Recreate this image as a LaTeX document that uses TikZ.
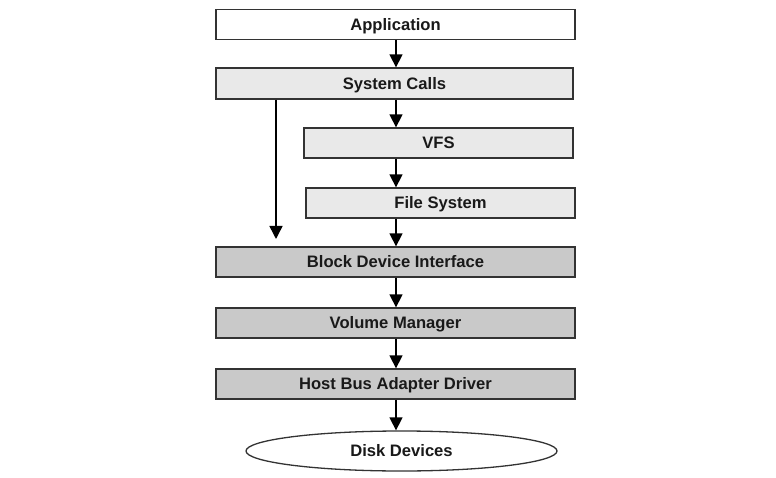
\documentclass[tikz,border=0pt]{standalone}
\usepackage{fontspec}
\setmainfont{Liberation Sans}
\usetikzlibrary{arrows.meta,shapes.geometric}
\definecolor{lightbox}{HTML}{E9E9E9}
\definecolor{darkbox}{HTML}{C9C9C9}
\definecolor{edge}{HTML}{333333}
\begin{document}
\begin{tikzpicture}[x=1pt,y=-1pt,
  layer/.style={draw=edge,line width=1.3pt,inner sep=0pt,minimum height=30pt,
    text height=11.9pt,text depth=0pt,
    font=\fontsize{16.6}{18}\selectfont\bfseries,text=black!90},
  toplayer/.style={layer,fill=white},
  midlayer/.style={layer,fill=lightbox},
  lowlayer/.style={layer,fill=darkbox},
  disk/.style={ellipse,draw=edge,line width=1.3pt,fill=white,inner sep=0pt,
    minimum width=311pt,minimum height=40pt,text height=11.9pt,text depth=0pt,
    font=\fontsize{16.6}{18}\selectfont\bfseries,text=black!90},
  arr/.style={draw=black,line width=1.5pt,-{Triangle[width=13pt,length=13pt]}}]
\useasboundingbox (0,0) rectangle (776,478);
\node[toplayer,minimum width=359pt] (app) at (395.5,24.5) {Application};
\node[midlayer,minimum width=357pt,minimum height=31pt] (sc) at (394.5,83.5) {System Calls};
\node[midlayer,minimum width=269pt] (vfs) at (438.5,143) {VFS};
\node[midlayer,minimum width=269pt] (fs) at (440.5,203) {File System};
\node[lowlayer,minimum width=359pt] (bdi) at (395.5,262) {Block Device Interface};
\node[lowlayer,minimum width=359pt] (vm) at (395.5,323) {Volume Manager};
\node[lowlayer,minimum width=359pt] (hba) at (395.5,384) {Host Bus Adapter Driver};
\node[disk] (dd) at (401.5,451) {Disk Devices};
\coordinate (cx) at (396,0);
\coordinate (lx) at (276,0);
\coordinate (ltip) at (276,239);
\draw[arr] (app.south -| cx) -- (sc.north -| cx);
\draw[arr] (sc.south -| cx) -- (vfs.north -| cx);
\draw[arr] (vfs.south -| cx) -- (fs.north -| cx);
\draw[arr] (fs.south -| cx) -- (bdi.north -| cx);
\draw[arr] (sc.south -| lx) -- (ltip);
\draw[arr] (bdi.south -| cx) -- (vm.north -| cx);
\draw[arr] (vm.south -| cx) -- (hba.north -| cx);
\draw[arr] (hba.south -| cx) -- (dd.north -| cx);
\end{tikzpicture}
\end{document}
